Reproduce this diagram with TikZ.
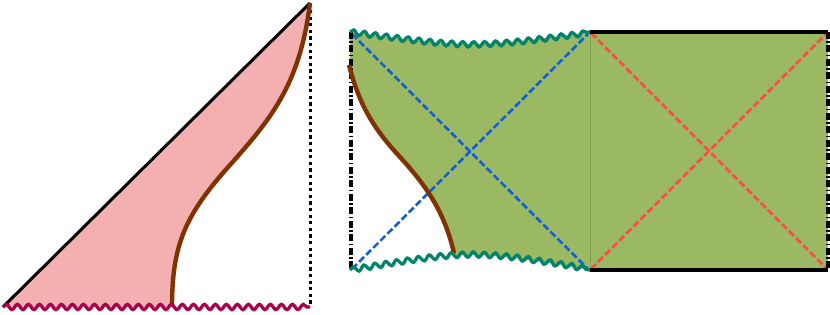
\documentclass[tikz,border=0pt]{standalone}
\usetikzlibrary{decorations.pathmorphing}
\definecolor{pinkfill}{HTML}{F4AFB0}
\definecolor{greenfill}{HTML}{9BB862}
\definecolor{greenline}{HTML}{7FA04E}
\definecolor{brownline}{HTML}{7F3300}
\definecolor{tealwave}{HTML}{00846A}
\definecolor{redwave}{HTML}{A8004A}
\definecolor{bluedash}{HTML}{1060D8}
\definecolor{reddash}{HTML}{FF4A48}
\tikzset{
  wavy/.style={line width=3.3pt,decorate,decoration={snake,segment length=11pt,amplitude=2.6pt}},
  dashdot/.style={line width=3.5pt,dash pattern=on 7pt off 2.5pt on 1.5pt off 2.5pt},
  horizon/.style={line width=2.6pt,dash pattern=on 7pt off 3pt},
  brane/.style={line width=4.4pt,brownline}
}
\begin{document}
\begin{tikzpicture}[x=1pt,y=1pt]
\useasboundingbox (0,0) rectangle (830,315);

% left diagram
\coordinate (lbl) at (3,8);
\coordinate (ltop) at (310,312);
\coordinate (lbr) at (310,8);
\coordinate (lfoot) at (172,8);
\fill[pinkfill] (lbl) -- (ltop) .. controls (300,230) and (270,195) .. (230,150)
  .. controls (185,100) and (172,70) .. (lfoot) -- cycle;
\draw[line width=3pt,dash pattern=on 3.3pt off 3.3pt] (310,305) -- (lbr);
\draw[line width=3pt] (lbl) -- (ltop);
\draw[brane] (lfoot) .. controls (172,70) and (185,100) .. (230,150)
  .. controls (270,195) and (300,230) .. (ltop);
\draw[wavy,redwave] (lbl) -- (lbr);

% right diagram
\coordinate (rtl) at (350,283);
\coordinate (rbl) at (350,45);
\coordinate (rtm) at (590,283);
\coordinate (rbm) at (590,45);
\coordinate (rtr) at (828,283);
\coordinate (rbr) at (828,45);
\coordinate (rstart) at (349,250);
\coordinate (rend) at (454,62);
\begin{scope}
  \clip (rstart) .. controls (358,215) and (370,190) .. (400,158)
    .. controls (430,125) and (445,100) .. (rend) -- (454,0) -- (600,0)
    -- (600,320) -- (340,320) -- cycle;
  \fill[greenfill] (rtl) .. controls (470,267) .. (rtm) -- (rbm)
    .. controls (470,65) .. (rbl) -- cycle;
\end{scope}
\fill[greenfill] (rtm) rectangle (rbr);
\draw[greenline,line width=0.6pt] (rtm) -- (rbm);
\draw[horizon,bluedash] (352,281) -- (588,46);
\draw[horizon,bluedash] (352,46) -- (588,281);
\draw[horizon,reddash] (591,282) -- (827,46);
\draw[horizon,reddash] (591,46) -- (827,282);
\draw[line width=3.3pt] (rtm) -- (rtr);
\draw[line width=3.3pt] (rbm) -- (rbr);
\draw[dashdot] (rtr) -- (rbr);
\draw[dashdot] (351,283) -- (351,45);
\draw[brane] (rstart) .. controls (358,215) and (370,190) .. (400,158)
  .. controls (430,125) and (445,100) .. (rend);
\draw[wavy,tealwave] (rtl) .. controls (470,267) .. (rtm);
\draw[wavy,tealwave] (rbl) .. controls (470,65) .. (rbm);
\end{tikzpicture}
\end{document}
